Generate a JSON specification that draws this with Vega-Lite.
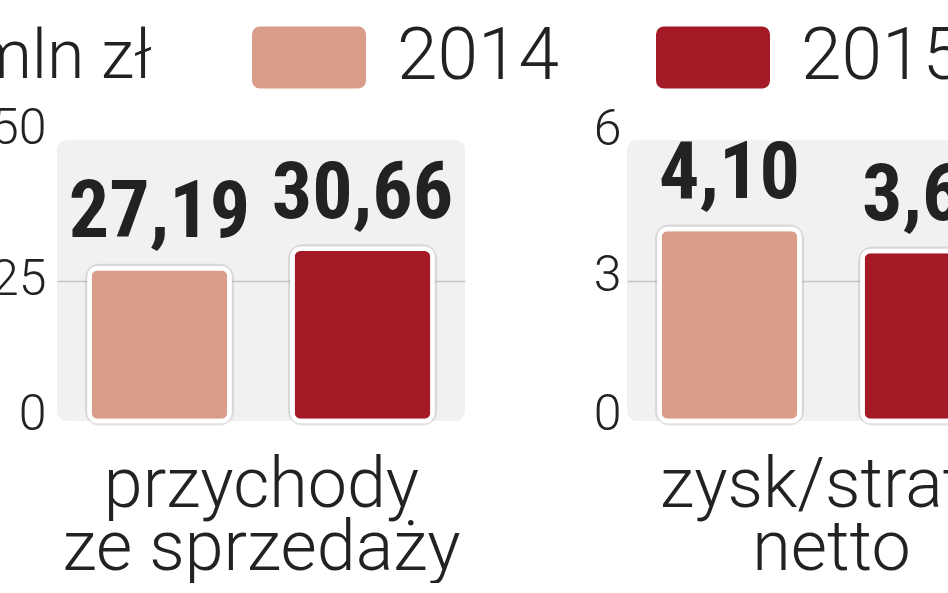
{
  "$schema": "https://vega.github.io/schema/vega-lite/v6.json",
  "padding": {"left": -29, "top": 20, "right": 0, "bottom": 0},
  "background": "white",
  "datasets": {
    "d": [
      {"kat": "przychody", "rok": "2014", "wartosc": 27.19},
      {"kat": "przychody", "rok": "2015", "wartosc": 30.66},
      {"kat": "zysk", "rok": "2014", "wartosc": 4.10},
      {"kat": "zysk", "rok": "2015", "wartosc": 3.63}
    ]
  },
  "data": {"name": "d"},
  "spacing": 162,
  "bounds": "flush",
  "resolve": {"scale": {"color": "shared", "y": "independent", "x": "independent"}},
  "hconcat": [
    {
      "width": 408,
      "height": 281,
      "transform": [{"filter": "datum.kat == 'przychody'"}],
      "encoding": {
        "x": {
          "field": "rok", "type": "nominal",
          "scale": {"paddingInner": 0.31, "paddingOuter": 0.16},
          "axis": {"title": ["przychody", "ze sprzedaży"], "labels": false, "ticks": false, "domain": false, "grid": false, "titleY": 85, "titleBaseline": "alphabetic", "titleLineHeight": 63, "titleFontSize": 70}
        },
        "y": {
          "field": "wartosc", "type": "quantitative",
          "scale": {"domain": [0, 50], "nice": false},
          "axis": {
            "values": [0, 25, 50], "title": "mln zł", "titleAngle": 0, "titleAlign": "left", "titleBaseline": "alphabetic", "titleX": -86, "titleY": -63, "titleFontSize": 68,
            "labelPadding": 11,
            "gridColor": {"condition": {"test": "datum.value == 25", "value": "#c6c6c6"}, "value": "rgba(0,0,0,0)"},
            "labelOffset": {"condition": [{"test": "datum.value == 0", "value": -7}, {"test": "datum.value == 50", "value": -12}], "value": -1}
          }
        }
      },
      "layer": [
        {"mark": {"type": "bar", "cornerRadius": 10, "stroke": "#a0a0a0", "strokeWidth": 9, "strokeOpacity": 0.3}, "encoding": {"color": {"field": "rok", "type": "nominal", "title": null}}},
        {"mark": {"type": "bar", "cornerRadius": 8, "stroke": "white", "strokeWidth": 4.5}, "encoding": {"color": {"field": "rok", "type": "nominal", "title": null}}},
        {"mark": {"type": "text", "dy": -31, "baseline": "alphabetic", "font": "Noto Sans ExtraCondensed, Noto Sans Condensed, Roboto Condensed, Roboto", "fontSize": 80, "fontWeight": "bold", "color": "#222222"}, "encoding": {"text": {"field": "wartosc", "type": "quantitative", "format": ".2f"}}}
      ]
    },
    {
      "width": 408,
      "height": 281,
      "transform": [{"filter": "datum.kat == 'zysk'"}],
      "encoding": {
        "x": {
          "field": "rok", "type": "nominal",
          "scale": {"paddingInner": 0.31, "paddingOuter": 0.16},
          "axis": {"title": ["zysk/strata", "netto"], "labels": false, "ticks": false, "domain": false, "grid": false, "titleY": 85, "titleBaseline": "alphabetic", "titleLineHeight": 63, "titleFontSize": 70}
        },
        "y": {
          "field": "wartosc", "type": "quantitative",
          "scale": {"domain": [0, 6], "nice": false},
          "axis": {
            "values": [0, 3, 6], "title": null,
            "labelPadding": 6,
            "gridColor": {"condition": {"test": "datum.value == 3", "value": "#c6c6c6"}, "value": "rgba(0,0,0,0)"},
            "labelOffset": {"condition": [{"test": "datum.value == 0", "value": -7}, {"test": "datum.value == 6", "value": -11}], "value": -5}
          }
        }
      },
      "layer": [
        {"mark": {"type": "bar", "cornerRadius": 10, "stroke": "#a0a0a0", "strokeWidth": 9, "strokeOpacity": 0.3}, "encoding": {"color": {"field": "rok", "type": "nominal", "title": null}}},
        {"mark": {"type": "bar", "cornerRadius": 8, "stroke": "white", "strokeWidth": 4.5}, "encoding": {"color": {"field": "rok", "type": "nominal", "title": null}}},
        {"mark": {"type": "text", "dy": -31, "baseline": "alphabetic", "font": "Noto Sans ExtraCondensed, Noto Sans Condensed, Roboto Condensed, Roboto", "fontSize": 80, "fontWeight": "bold", "color": "#222222"}, "encoding": {"text": {"field": "wartosc", "type": "quantitative", "format": ".2f"}}}
      ]
    }
  ],
  "config": {
    "locale": {"number": {"decimal": ",", "thousands": " ", "grouping": [3], "currency": ["", " zł"]}},
    "view": {"fill": "#f1f1f1", "stroke": null, "cornerRadius": 10},
    "range": {"category": ["#d99d89", "#a31926"]},
    "axis": {
      "labelFont": "Roboto", "labelFontWeight": 300, "labelFontSize": 50, "labelColor": "#222222",
      "titleFont": "Roboto", "titleFontWeight": 300, "titleColor": "#222222",
      "domain": false, "ticks": false, "gridWidth": 1.5, "labelFlush": false, "labelOverlap": false
    },
    "legend": {
      "orient": "none", "legendX": 215, "legendY": -120, "direction": "horizontal",
      "symbolType": "M-1.4,-0.943H1.4A0.286,0.286,0,0,1,1.686,-0.657V0.657A0.286,0.286,0,0,1,1.4,0.943H-1.4A0.286,0.286,0,0,1,-1.686,0.657V-0.657A0.286,0.286,0,0,1,-1.4,-0.943Z",
      "symbolSize": 4900, "symbolStrokeColor": "white", "symbolStrokeWidth": 4, "symbolOpacity": 1,
      "labelFont": "Roboto", "labelFontWeight": 300, "labelFontSize": 73, "labelColor": "#222222", "labelOffset": 51, "columnPadding": 86, "labelLimit": 400
    }
  }
}
